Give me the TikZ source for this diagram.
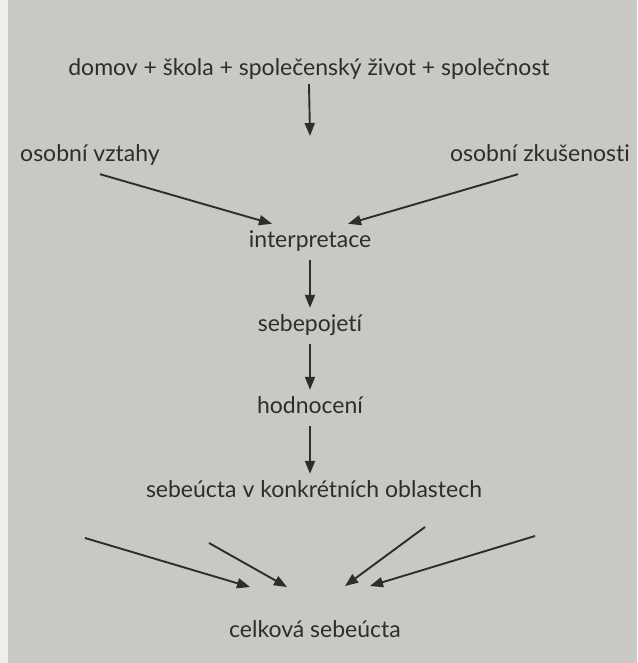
\documentclass[tikz,border=0pt]{standalone}
\usepackage{fontspec}
\setmainfont[Ligatures={NoCommon,NoRare}]{Lato}
\usetikzlibrary{arrows.meta,positioning}
\definecolor{pgPaper}{RGB}{200,200,197}
\definecolor{pgEdge} {RGB}{238,238,236}
\definecolor{pgInk}  {RGB}{ 45, 45, 45}

\begin{document}
\begin{tikzpicture}[x=1pt,y=-1pt,
    every node/.style={font=\fontsize{23}{26}\selectfont,text=pgInk},
    lbl/.style={inner xsep=3pt,inner ysep=7.5pt,text height=16pt,text depth=5pt},
    arr/.style={-{Triangle[length=13pt,width=10pt]},line width=1.9pt,pgInk}
  ]
  % paper
  \fill[pgPaper] (0,0) rectangle (637,663);
  \fill[pgEdge] (0,0) rectangle (8,663);
  \useasboundingbox (0,0) rectangle (637,663);
  % sources
  \node[lbl] (zdroje) at (309,70) {domov + škola + společenský život + společnost};
  \node[lbl] (vztahy) at (90,156) {osobní vztahy};
  \node[lbl] (zkus) at (540,156) {osobní zkušenosti};
  % chain
  \node[lbl] (interp) at (310,242) {interpretace};
  \node[lbl] (pojeti) at (310,326) {sebepojetí};
  \node[lbl] (hodn) at (310,408) {hodnocení};
  \node[lbl] (oblasti) at (314,492) {sebeúcta v konkrétních oblastech};
  \node[lbl] (celk) at (315,632) {celková sebeúcta};
  % free ends
  \coordinate (zdrojeE) at (310,136);
  \coordinate (o1) at (85,538);
  \coordinate (o2) at (209,543);
  \coordinate (o3) at (425,527);
  \coordinate (o4) at (535,536);
  \coordinate (c1) at (250,587);
  \coordinate (c2) at (287,587);
  \coordinate (c3) at (345,586);
  \coordinate (c4) at (370,586);
  % arrows
  \draw[arr] ([yshift=4pt]zdroje.south) -- (zdrojeE);
  \draw[arr] ([xshift=10pt]vztahy.south) -- ([xshift=-38pt]interp.north);
  \draw[arr] ([xshift=-22pt]zkus.south) -- ([xshift=38pt]interp.north);
  \draw[arr] (interp) -- (pojeti);
  \draw[arr] (pojeti) -- (hodn);
  \draw[arr] (hodn) -- (hodn |- oblasti.north);
  \draw[arr] (o1) -- (c1);
  \draw[arr] (o2) -- (c2);
  \draw[arr] (o3) -- (c3);
  \draw[arr] (o4) -- (c4);
\end{tikzpicture}
\end{document}
